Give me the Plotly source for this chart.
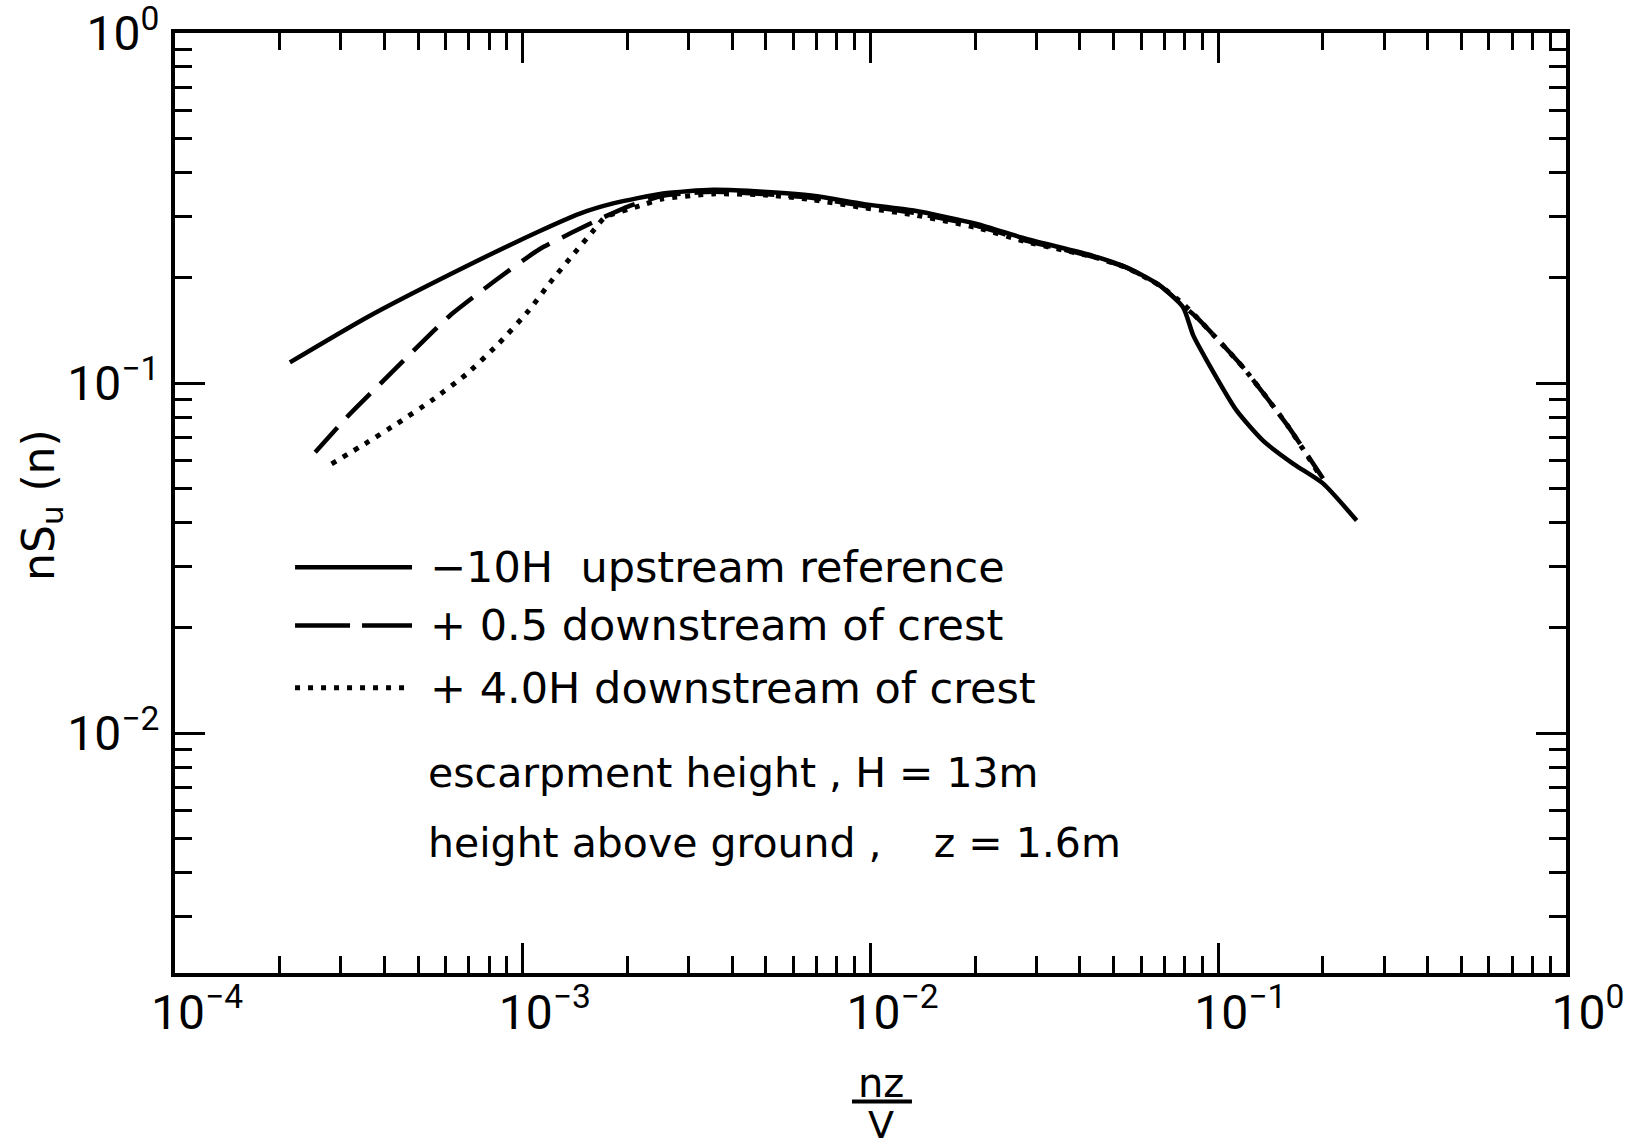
import plotly.graph_objects as go

# Normalised velocity spectra nS_u(n) against reduced frequency nz/V
solid_x = [2.14e-4, 3.56e-4, 6.46e-4, 1.12e-3, 1.46e-3, 1.82e-3, 2.53e-3, 3.52e-3,
           4.91e-3, 6.84e-3, 9.52e-3, 0.0133, 0.0202, 0.0281, 0.0436, 0.0545,
           0.068, 0.0792, 0.0848, 0.0927, 0.113, 0.1345, 0.1644, 0.200, 0.250]
solid_y = [0.1146, 0.154, 0.209, 0.272, 0.305, 0.326, 0.348, 0.3565,
           0.352, 0.343, 0.325, 0.311, 0.285, 0.258, 0.231, 0.214,
           0.190, 0.1646, 0.1366, 0.116, 0.0834, 0.0685, 0.0588, 0.0517, 0.0405]

dashed_x = [2.53e-4, 3.12e-4, 3.93e-4, 4.96e-4, 6.18e-4, 8.32e-4, 1.12e-3, 1.70e-3,
            2.03e-3, 2.53e-3, 3.52e-3, 4.91e-3, 6.84e-3, 9.52e-3, 0.0133, 0.0202,
            0.0281, 0.0436, 0.0545, 0.068, 0.0792, 0.0867, 0.1178, 0.1583, 0.2001]
dashed_y = [0.0635, 0.0799, 0.1005, 0.1265, 0.156, 0.196, 0.2415, 0.297,
            0.321, 0.343, 0.352, 0.347, 0.338, 0.321, 0.3065, 0.2814,
            0.255, 0.2296, 0.2136, 0.1897, 0.1664, 0.1541, 0.111, 0.0756, 0.0534]

dotted_x = [2.82e-4, 3.52e-4, 4.34e-4, 5.47e-4, 6.90e-4, 8.51e-4, 1.04e-3, 1.21e-3,
            1.38e-3, 1.61e-3, 1.72e-3, 2.17e-3, 2.53e-3, 3.52e-3, 4.91e-3, 6.84e-3,
            9.52e-3, 0.0133, 0.0202, 0.0281, 0.0436, 0.0545, 0.068, 0.0792,
            0.0867, 0.1178, 0.1583, 0.1936]
dotted_y = [0.0588, 0.0671, 0.0765, 0.0892, 0.1062, 0.1294, 0.161, 0.196,
            0.2296, 0.2754, 0.2972, 0.321, 0.336, 0.347, 0.345, 0.334,
            0.317, 0.3025, 0.278, 0.253, 0.2296, 0.2136, 0.1897, 0.1686,
            0.1541, 0.111, 0.0756, 0.0555]

series_names = ["\u221210H  upstream reference",
                "+ 0.5 downstream of crest",
                "+ 4.0H downstream of crest"]
notes = ["escarpment height , H = 13m",
         "height above ground ,    z = 1.6m"]

x_major = [1e-4, 1e-3, 1e-2, 1e-1, 1.0]
x_labels = ["10<sup>\u22124</sup>", "10<sup>\u22123</sup>", "10<sup>\u22122</sup>",
            "10<sup>\u22121</sup>", "10<sup>0</sup>"]
y_major = [1e-2, 1e-1, 1.0]
y_labels = ["10<sup>\u22122</sup>", "10<sup>\u22121</sup>", "10<sup>0</sup>"]

x_minor = [m * 10.0 ** e for e in range(-4, 0) for m in range(2, 10)]
y_minor = [m * 10.0 ** e for e in range(-3, 0) for m in range(2, 10)]

FONT = "DejaVu Sans"
TICKFONT = "Roboto"
INK = "black"

dash_long = "33px,14px"
dash_dot = "5px,8px"

fig = go.Figure()
fig.add_trace(go.Scatter(x=solid_x, y=solid_y, mode="lines", name=series_names[0],
                         line=dict(color=INK, width=4.5, shape="spline", smoothing=0.6)))
fig.add_trace(go.Scatter(x=dashed_x, y=dashed_y, mode="lines", name=series_names[1],
                         line=dict(color=INK, width=4.5, dash=dash_long,
                                   shape="spline", smoothing=0.5)))
fig.add_trace(go.Scatter(x=dotted_x, y=dotted_y, mode="lines", name=series_names[2],
                         line=dict(color=INK, width=5, dash=dash_dot,
                                   shape="spline", smoothing=0.5)))

axis_common = dict(
    showline=True, linecolor=INK, linewidth=4, mirror="ticks",
    ticks="inside", ticklen=30, tickwidth=3, tickcolor=INK,
    showgrid=False, zeroline=False, ticklabeloverflow="allow",
    automargin=False,
    tickfont=dict(family=TICKFONT, size=48, color=INK),
)

fig.update_xaxes(type="log", range=[-4, 0], tickmode="array",
                 tickvals=x_major, ticktext=x_labels, ticklabelstandoff=-6,
                 ticklabelshift=22,
                 minor=dict(tickmode="array", tickvals=x_minor, ticks="inside",
                            ticklen=17, tickwidth=3, tickcolor=INK, showgrid=False),
                 **axis_common)
fig.update_yaxes(type="log", range=[-2.685, 0], tickmode="array",
                 tickvals=y_major, ticktext=y_labels, ticklabelstandoff=2,
                 minor=dict(tickmode="array", tickvals=y_minor, ticks="inside",
                            ticklen=17, tickwidth=3, tickcolor=INK, showgrid=False),
                 **axis_common)

# y-axis title, rotated
fig.add_annotation(xref="paper", yref="paper", x=-0.0956, y=0.498,
                   text="nS<sub>u</sub> (n)", textangle=-90, showarrow=False,
                   xanchor="center", yanchor="middle",
                   font=dict(family=FONT, size=44, color=INK))

# Key: line samples drawn in paper space beside the labels
key_y = [0.4316, 0.3697, 0.3034]
key_dash = ["solid", "55px,12px", dash_dot]
key_width = [4.5, 4.5, 5]
for yk, dk, wk, label in zip(key_y, key_dash, key_width, series_names):
    fig.add_shape(type="line", xref="paper", yref="paper",
                  x0=0.0863, x1=0.1704, y0=yk, y1=yk,
                  line=dict(color=INK, width=wk, dash=dk))
    fig.add_annotation(xref="paper", yref="paper", x=0.1819, y=yk, text=label,
                       showarrow=False, xanchor="left", yanchor="middle",
                       font=dict(family=FONT, size=43, color=INK))

for yk, note in zip([0.2126, 0.1378], notes):
    fig.add_annotation(xref="paper", yref="paper", x=0.1805, y=yk, text=note,
                       showarrow=False, xanchor="left", yanchor="middle",
                       font=dict(family=FONT, size=41, color=INK))

# x-axis title written as a stacked fraction nz / V
fig.add_annotation(xref="paper", yref="paper", x=0.5076, y=-0.1165, text="nz",
                   showarrow=False, xanchor="center", yanchor="middle",
                   font=dict(family=FONT, size=40, color=INK))
fig.add_shape(type="line", xref="paper", yref="paper",
              x0=0.4867, x1=0.5298, y0=-0.1368, y1=-0.1368,
              line=dict(color=INK, width=4))
fig.add_annotation(xref="paper", yref="paper", x=0.5076, y=-0.1613, text="V",
                   showarrow=False, xanchor="center", yanchor="middle",
                   borderpad=0, font=dict(family=FONT, size=38, color=INK))

fig.update_layout(
    width=1629, height=1146,
    margin=dict(l=175, r=63, t=33, b=173),
    paper_bgcolor="white", plot_bgcolor="white",
    showlegend=False,
    font=dict(family=FONT, color=INK),
)

fig.write_html("out.html")
